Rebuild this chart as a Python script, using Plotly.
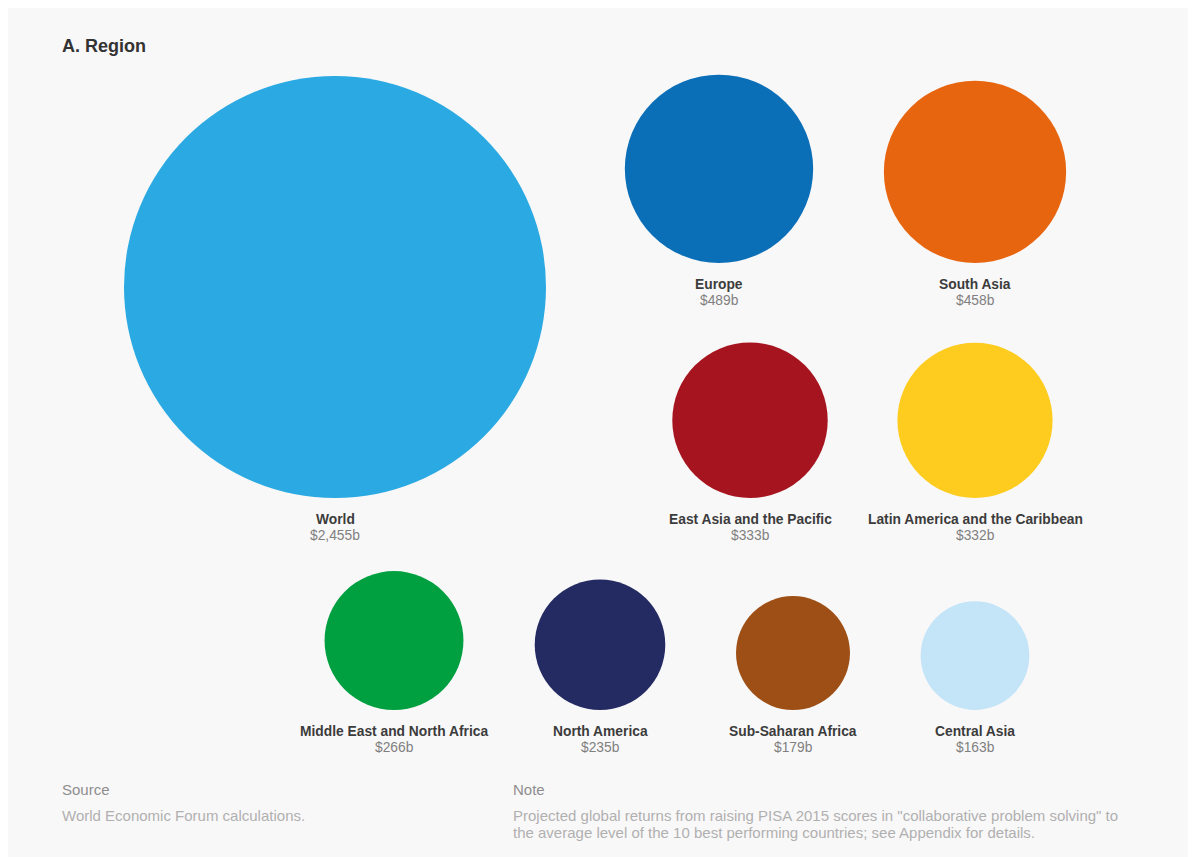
import math
import plotly.graph_objects as go

# ---- data ----
regions = ["World", "Europe", "South Asia", "East Asia and the Pacific",
           "Latin America and the Caribbean", "Middle East and North Africa",
           "North America", "Sub-Saharan Africa", "Central Asia"]
values = [2455, 489, 458, 333, 332, 266, 235, 179, 163]
value_labels = ["$2,455b", "$489b", "$458b", "$333b", "$332b", "$266b",
                "$235b", "$179b", "$163b"]
colors = ["#2aa9e2", "#0b6fb8", "#e8650f", "#a6151f", "#fdcc1f",
          "#00a040", "#232b62", "#9d4f15", "#c4e4f8"]

# ---- layout (pixel positions in the page: circle center x, circle bottom y) ----
center_x = [335, 719, 975, 750, 975, 394, 600, 793, 975]
bottom_y = [498, 263, 263, 498, 498, 710, 710, 710, 710]

PAGE_W, PAGE_H = 1196, 857
OFF = 8  # default body margin of the html page
W, H = PAGE_W - OFF, PAGE_H - OFF
MAX_DIAM = 422  # diameter in px of the largest bubble
sizeref = 2.0 * max(values) / (MAX_DIAM ** 2)
radii = [math.sqrt((v / 2.0) / sizeref) for v in values]
center_y = [b - r for b, r in zip(bottom_y, radii)]

FONT = "Liberation Sans, Arial, Helvetica, sans-serif"

fig = go.Figure()
fig.add_trace(go.Scatter(
    x=center_x, y=center_y, mode="markers",
    marker=dict(size=values, sizemode="area", sizeref=sizeref,
                color=colors, line=dict(width=0), opacity=1),
    hoverinfo="text", text=[f"{n}: {v}" for n, v in zip(regions, value_labels)],
    showlegend=False,
))

annotations = []
for name, vl, cx, b in zip(regions, value_labels, center_x, bottom_y):
    annotations.append(dict(x=cx, y=b + 21, text=f"<b>{name}</b>", showarrow=False,
                            xref="x", yref="y", xanchor="center", yanchor="middle",
                            font=dict(family=FONT, size=13.8, color="#3c3c3c")))
    annotations.append(dict(x=cx, y=b + 37, text=vl, showarrow=False,
                            xref="x", yref="y", xanchor="center", yanchor="middle",
                            font=dict(family=FONT, size=13.8, color="#808080")))

annotations += [
    dict(x=60, y=46, text="<b>A. Region</b>", showarrow=False, xref="x", yref="y",
         xanchor="left", yanchor="middle", font=dict(family=FONT, size=18, color="#333333")),
    dict(x=60, y=789, text="Source", showarrow=False, xref="x", yref="y",
         xanchor="left", yanchor="middle", font=dict(family=FONT, size=15, color="#8e8e8e")),
    dict(x=60, y=815, text="World Economic Forum calculations.", showarrow=False,
         xref="x", yref="y", xanchor="left", yanchor="middle",
         font=dict(family=FONT, size=15, color="#b0b0b0")),
    dict(x=511, y=789, text="Note", showarrow=False, xref="x", yref="y",
         xanchor="left", yanchor="middle", font=dict(family=FONT, size=15, color="#8e8e8e")),
    dict(x=511, y=815,
         text="Projected global returns from raising PISA 2015 scores in \"collaborative problem solving\" to",
         showarrow=False, xref="x", yref="y", xanchor="left", yanchor="middle",
         font=dict(family=FONT, size=15, color="#b0b0b0")),
    dict(x=511, y=832,
         text="the average level of the 10 best performing countries; see Appendix for details.",
         showarrow=False, xref="x", yref="y", xanchor="left", yanchor="middle",
         font=dict(family=FONT, size=15, color="#b0b0b0")),
]

fig.update_layout(
    width=W, height=H, autosize=False,
    margin=dict(l=0, r=0, t=0, b=0),
    paper_bgcolor="#f9f8f9", plot_bgcolor="#f9f8f9",
    xaxis=dict(range=[OFF, PAGE_W], visible=False, fixedrange=True),
    yaxis=dict(range=[PAGE_H, OFF], visible=False, fixedrange=True),
    annotations=annotations,
    hovermode="closest",
)

fig.write_html("out.html", config={"displayModeBar": False})
